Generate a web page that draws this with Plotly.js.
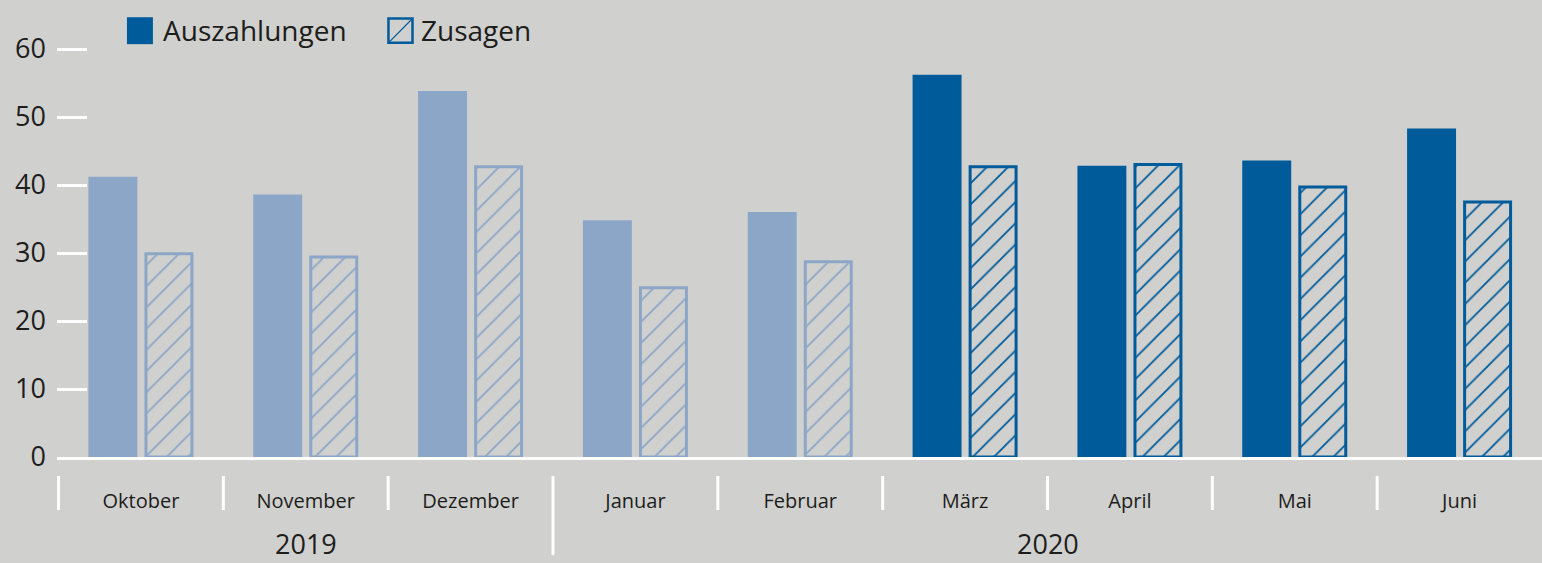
<!DOCTYPE html>
<html>
<head>
<meta charset="utf-8">
<script src="https://cdn.plot.ly/plotly-3.0.1.min.js"></script>
<style>html,body{margin:0;padding:0;background:#d0d0ce;}#chart{width:1542px;height:563px;}</style>
</head>
<body>
<div id="chart"></div>
<script>
// ---- data ----
const months = ['Oktober','November','Dezember','Januar','Februar','März','April','Mai','Juni'];
const years  = ['2019','2019','2019','2020','2020','2020','2020','2020','2020'];
const auszahlungen = [41.0, 38.4, 53.6, 34.6, 35.8, 56.0, 42.6, 43.4, 48.1];
const zusagen      = [29.9, 29.4, 42.7, 24.9, 28.7, 42.7, 43.0, 39.7, 37.5];
const highlightFrom = 'März'; // bars from this month on are drawn in the strong colour
const seriesNames = ['Auszahlungen', 'Zusagen'];
const yTicks = [0, 10, 20, 30, 40, 50, 60];

// ---- styles ----
const BG = '#d0d0ce';
const DARK = '#005b9b';
const LIGHT = '#8ca6c8';
const TEXT = '#1d1d1b';
const FONT = 'Open Sans, Noto Sans, sans-serif';

const hi = months.indexOf(highlightFrom);
const isHi = months.map((m, i) => i >= hi);
const cols = isHi.map(h => h ? DARK : LIGHT);

const traces = [
  {
    type: 'bar', name: seriesNames[0], x: months, y: auszahlungen, offsetgroup: 'a',
    marker: {color: cols, line: {color: cols, width: 3}},
    showlegend: false
  }
];
// Zusagen: one trace per colour, sharing an offset group so they keep one slot
[false, true].forEach(h => {
  const c = h ? DARK : LIGHT;
  traces.push({
    type: 'bar', name: seriesNames[1], x: months,
    y: zusagen.map((v, i) => isHi[i] === h ? v : null),
    offsetgroup: 'z',
    marker: {
      color: BG,
      line: {color: c, width: 3},
      pattern: {shape: '/', fgcolor: c, bgcolor: BG, size: 15, solidity: 0.12}
    },
    showlegend: false
  });
});

// ---- dividers & year labels ----
const shapes = [];
const annotations = [];
const Y0 = -0.043, YS = -0.12, YL = -0.222;
months.forEach((m, i) => {
  const longLine = i > 0 && years[i] !== years[i - 1];
  shapes.push({type: 'line', xref: 'x', yref: 'paper', x0: i - 0.5, x1: i - 0.5,
    y0: Y0, y1: longLine ? YL : YS, line: {color: '#ffffff', width: 3}});
});
[...new Set(years)].forEach(yr => {
  const idx = years.map((v, i) => v === yr ? i : null).filter(v => v !== null);
  const mid = idx.reduce((a, b) => a + b, 0) / idx.length;
  annotations.push({xref: 'x', yref: 'paper', x: mid, y: -0.195, text: yr, showarrow: false,
    xanchor: 'center', yanchor: 'middle', font: {family: FONT, size: 27, color: TEXT}});
});

// ---- custom legend ----
const lgY0 = 0.934, lgY1 = 0.995;
shapes.push({type: 'rect', xref: 'paper', yref: 'paper', x0: 0.0471, x1: 0.0646, y0: lgY0, y1: lgY1,
  fillcolor: DARK, line: {width: 0}});
shapes.push({type: 'rect', xref: 'paper', yref: 'paper', x0: 0.2232, x1: 0.2394, y0: lgY0 + 0.003, y1: lgY1 - 0.003,
  fillcolor: BG, line: {color: DARK, width: 2.5}});
shapes.push({type: 'line', xref: 'paper', yref: 'paper', x0: 0.2232, x1: 0.2394, y0: lgY0 + 0.003, y1: lgY1 - 0.003,
  line: {color: DARK, width: 1.2}});
annotations.push({xref: 'paper', yref: 'paper', x: 0.0700, y: 0.966, text: seriesNames[0], showarrow: false,
  xanchor: 'left', yanchor: 'middle', font: {family: FONT, size: 28, color: TEXT}});
annotations.push({xref: 'paper', yref: 'paper', x: 0.2440, y: 0.966, text: seriesNames[1], showarrow: false,
  xanchor: 'left', yanchor: 'middle', font: {family: FONT, size: 28, color: TEXT}});

const layout = {
  width: 1542, height: 563,
  margin: {l: 57, r: 0, t: 15, b: 106, pad: 0},
  paper_bgcolor: BG, plot_bgcolor: BG,
  barmode: 'group', bargap: 0.32, bargroupgap: 0.18,
  showlegend: false,
  font: {family: FONT, color: TEXT},
  xaxis: {
    type: 'category', categoryorder: 'array', categoryarray: months,
    showgrid: false, zeroline: false,
    showline: true, linecolor: '#ffffff', linewidth: 3,
    ticks: '', ticklabelstandoff: 24,
    tickfont: {family: FONT, size: 20, color: TEXT},
    fixedrange: true
  },
  yaxis: {
    range: [0, 65], tickvals: yTicks, ticktext: yTicks.map(String),
    showgrid: false, zeroline: false, showline: false,
    ticks: 'inside', ticklen: 30, tickwidth: 3, tickcolor: '#ffffff',
    ticklabelstandoff: 10,
    tickfont: {family: FONT, size: 27, color: TEXT},
    fixedrange: true
  },
  shapes: shapes,
  annotations: annotations
};

Plotly.newPlot('chart', traces, layout, {displayModeBar: false, staticPlot: true});
</script>
</body>
</html>
